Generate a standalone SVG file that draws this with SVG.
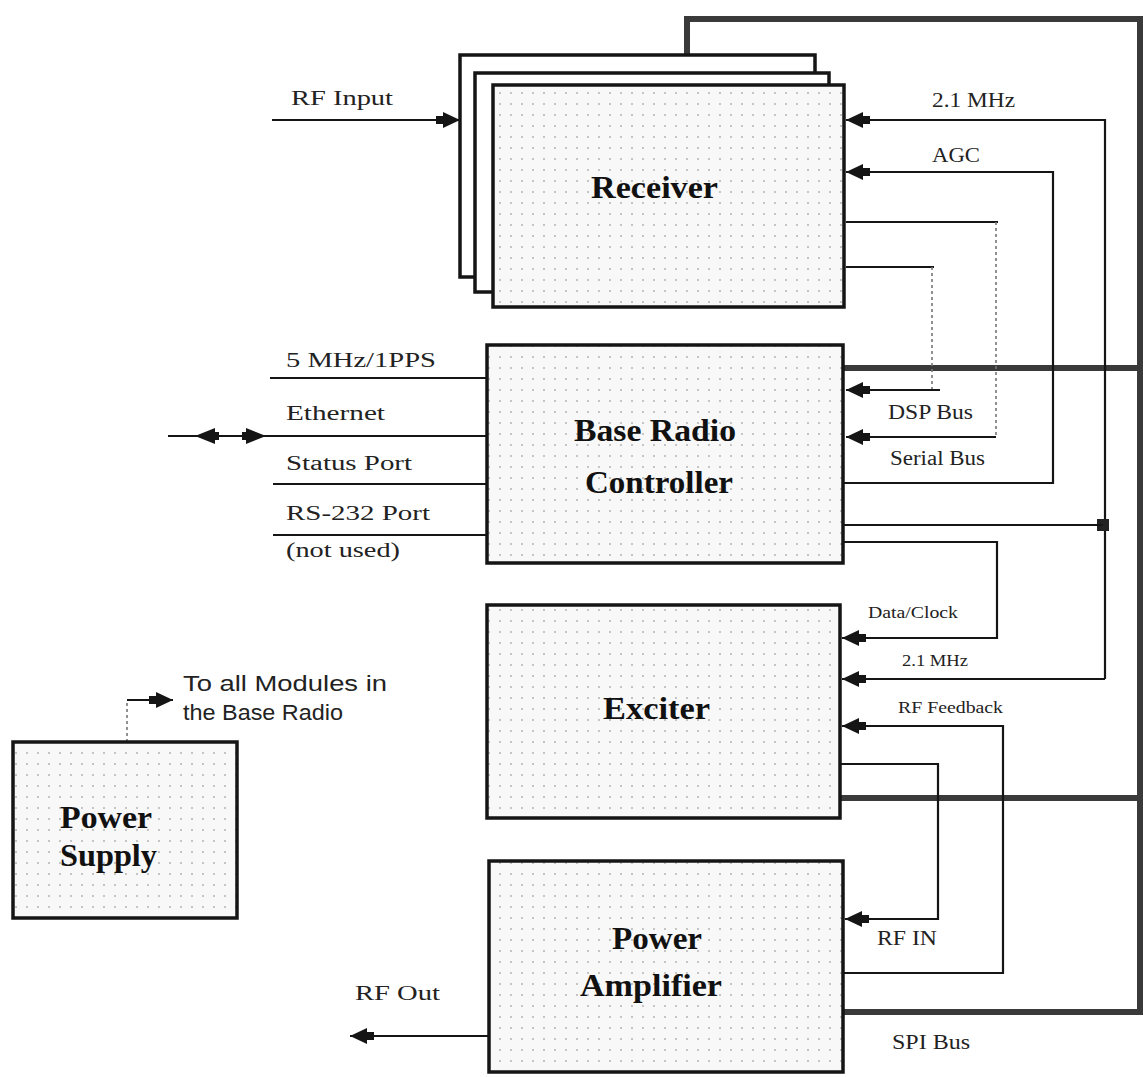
<svg xmlns="http://www.w3.org/2000/svg" width="1143" height="1077" viewBox="0 0 1143 1077">
<style>
.box{fill:url(#dots);stroke:#151515;stroke-width:3.5}
.frame{fill:#fff;stroke:#151515;stroke-width:3.5}
.node{font-family:"Liberation Serif","Times New Roman",serif;font-weight:bold;font-size:32px;fill:#111}
.lbl{font-family:"Liberation Serif","Times New Roman",serif;font-size:20px;fill:#222}
.sm{font-family:"Liberation Serif","Times New Roman",serif;font-size:16px;fill:#222}
.sans{font-family:"Liberation Sans",Arial,sans-serif;font-size:22px;fill:#222}
.ln{fill:none;stroke:#151515;stroke-width:2.2}
.bus{fill:none;stroke:#3a3a3a;stroke-width:6}
.dash{fill:none;stroke:#777;stroke-width:1.6;stroke-dasharray:3 3}
.arr{marker-end:url(#ah)}
</style>
<defs>
<pattern id="dots" width="11" height="11" patternUnits="userSpaceOnUse">
<rect width="11" height="11" fill="#f8f8f8"/>
<rect x="4" y="4" width="2" height="2" fill="#c4c4c4"/>
</pattern>
<marker id="ah" viewBox="0 0 24 18" refX="24" refY="9" markerWidth="24" markerHeight="18" markerUnits="userSpaceOnUse" orient="auto">
<path d="M0,5 H7 V1 L24,9 L7,17 V13 H0 Z" fill="#151515"/>
</marker>
</defs>
<rect width="1143" height="1077" fill="#fff"/>

<g id="connectors">
<path class="bus" d="M687,55 V19 H1140 V1012 H843"/>
<path class="bus" d="M843,368 H1140"/>
<path class="bus" d="M838,798 H1140"/>
<path class="ln arr" d="M272,120 H460"/>
<path class="ln arr" d="M1105,679 V120 H846"/>
<path class="ln arr" d="M1105,679 H842"/>
<rect x="1097" y="519" width="12" height="12" fill="#222"/>
<path class="ln arr" d="M843,483 H1053 V172 H846"/>
<path class="ln" d="M846,222 H998"/>
<path class="dash" d="M996,222 V437"/>
<path class="ln arr" d="M996,437 H846"/>
<path class="ln" d="M846,267 H934"/>
<path class="dash" d="M932,267 V390"/>
<path class="ln arr" d="M940,390 H846"/>
<path class="ln" d="M843,525 H1103"/>
<path class="ln arr" d="M843,542 H997 V638 H842"/>
<path class="ln arr" d="M843,973 H1003 V726 H842"/>
<path class="ln arr" d="M840,764 H938 V919 H845"/>
<path class="ln arr" d="M489,1036 H350"/>
<path class="ln" d="M168,436 H487"/>
<path d="M195,436 L215,428 V432 H219 V440 H215 V444 Z" fill="#151515"/>
<path d="M266,436 L246,428 V432 H242 V440 H246 V444 Z" fill="#151515"/>
<path class="ln" d="M270,378 H487"/>
<path class="ln" d="M273,484 H487"/>
<path class="ln" d="M273,535 H487"/>
<path class="dash" d="M127,742 V700"/>
<path class="ln arr" d="M127,700 H173"/>
<text class="lbl" x="291" y="105" textLength="102" lengthAdjust="spacingAndGlyphs">RF Input</text>
<text class="lbl" x="932" y="107" textLength="83" lengthAdjust="spacingAndGlyphs">2.1 MHz</text>
<text class="lbl" x="932" y="162" textLength="48" lengthAdjust="spacingAndGlyphs">AGC</text>
<text class="lbl" x="286" y="367" textLength="150" lengthAdjust="spacingAndGlyphs">5 MHz/1PPS</text>
<text class="lbl" x="286" y="420" textLength="99" lengthAdjust="spacingAndGlyphs">Ethernet</text>
<text class="lbl" x="286" y="470" textLength="126" lengthAdjust="spacingAndGlyphs">Status Port</text>
<text class="lbl" x="286" y="520" textLength="144" lengthAdjust="spacingAndGlyphs">RS-232 Port</text>
<text class="lbl" x="286" y="557" textLength="114" lengthAdjust="spacingAndGlyphs">(not used)</text>
<text class="lbl" x="888" y="419" textLength="85" lengthAdjust="spacingAndGlyphs">DSP Bus</text>
<text class="lbl" x="890" y="465" textLength="95" lengthAdjust="spacingAndGlyphs">Serial Bus</text>
<text class="sm" x="868" y="618" textLength="90" lengthAdjust="spacingAndGlyphs">Data/Clock</text>
<text class="sm" x="902" y="666" textLength="66" lengthAdjust="spacingAndGlyphs">2.1 MHz</text>
<text class="sm" x="898" y="713" textLength="105" lengthAdjust="spacingAndGlyphs">RF Feedback</text>
<text class="lbl" x="877" y="945" textLength="60" lengthAdjust="spacingAndGlyphs">RF IN</text>
<text class="lbl" x="892" y="1049" textLength="78" lengthAdjust="spacingAndGlyphs">SPI Bus</text>
<text class="lbl" x="355" y="1000" textLength="85" lengthAdjust="spacingAndGlyphs">RF Out</text>
<text class="sans" x="183" y="691" textLength="204" lengthAdjust="spacingAndGlyphs">To all Modules in</text>
<text class="sans" x="183" y="720" textLength="160" lengthAdjust="spacingAndGlyphs">the Base Radio</text>
</g>

<g id="receiver">
<rect class="frame" x="460" y="55" width="355" height="222"/>
<rect class="frame" x="475" y="73" width="354" height="219"/>
<rect class="box" x="493" y="85" width="351" height="222"/>
<text class="node" x="591" y="198" textLength="127" lengthAdjust="spacingAndGlyphs">Receiver</text>
</g>

<g id="base-radio-controller">
<rect class="box" x="487" y="345" width="356" height="218"/>
<text class="node" x="574" y="441" textLength="162" lengthAdjust="spacingAndGlyphs">Base Radio</text>
<text class="node" x="585" y="493" textLength="148" lengthAdjust="spacingAndGlyphs">Controller</text>
</g>

<g id="exciter">
<rect class="box" x="487" y="605" width="353" height="213"/>
<text class="node" x="603" y="719" textLength="107" lengthAdjust="spacingAndGlyphs">Exciter</text>
</g>

<g id="power-amplifier">
<rect class="box" x="489" y="861" width="354" height="211"/>
<text class="node" x="612" y="949" textLength="90" lengthAdjust="spacingAndGlyphs">Power</text>
<text class="node" x="580" y="996" textLength="142" lengthAdjust="spacingAndGlyphs">Amplifier</text>
</g>

<g id="power-supply">
<rect class="box" x="13" y="742" width="224" height="176"/>
<text class="node" x="60" y="828" textLength="92" lengthAdjust="spacingAndGlyphs">Power</text>
<text class="node" x="60" y="866" textLength="97" lengthAdjust="spacingAndGlyphs">Supply</text>
</g>
</svg>
